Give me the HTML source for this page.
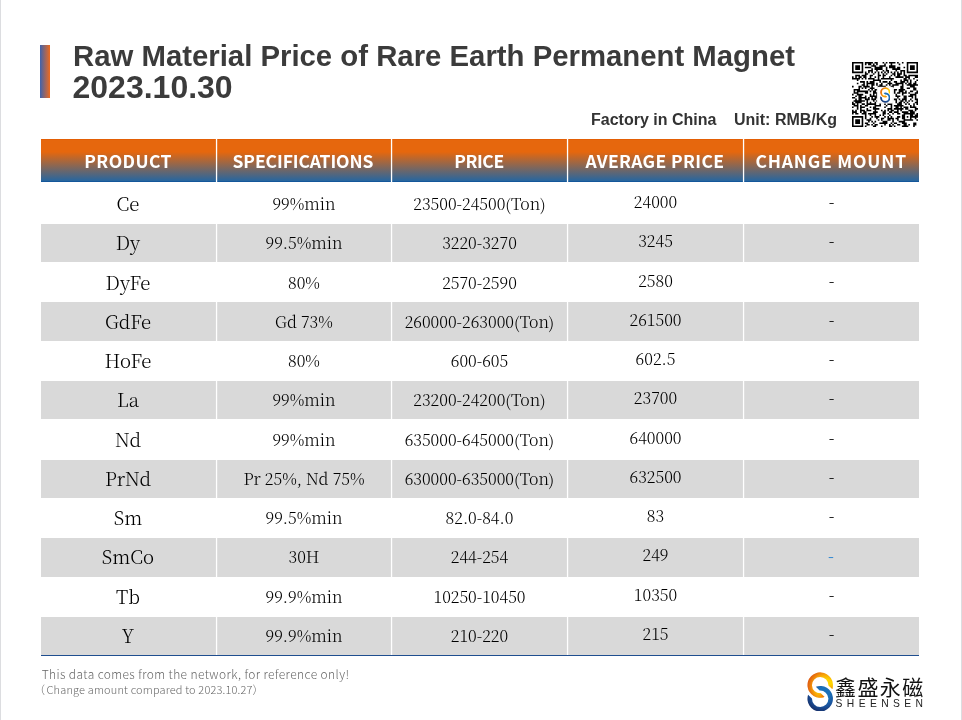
<!DOCTYPE html>
<html lang="en"><head><meta charset="utf-8"><title>Raw Material Price of Rare Earth Permanent Magnet 2023.10.30</title>
<style>
html,body{margin:0;padding:0;background:#fff;}
body{width:962px;height:720px;position:relative;overflow:hidden;font-family:"Liberation Sans",sans-serif;}
.edgeL{position:absolute;left:0;top:0;width:1px;height:720px;background:#dcdde0}
.edgeR{position:absolute;left:960.7px;top:0;width:1.3px;height:720px;background:#dcdde0}
.bar{position:absolute;left:40px;top:45px;width:10px;height:53px;background:linear-gradient(90deg,#3f63ad,#ee6a1e)}
h1{position:absolute;left:73px;top:40px;margin:0;font:bold 29.33px/32px "Liberation Sans",sans-serif;color:#3b3b3b;white-space:nowrap}
h1 span{font-size:32px;position:absolute;left:-0.5px;top:31px;line-height:32px}
.sub{position:absolute;top:111px;font:bold 16px/18px "Liberation Sans",sans-serif;color:#333;white-space:nowrap}
.tbl{position:absolute;left:0;top:0}
.th{position:absolute;top:138.6px;width:200px;height:43px;text-align:center;color:#fff;font:bold 17.5px/43px "Noto Sans CJK SC","Liberation Sans",sans-serif;white-space:nowrap}
.td{position:absolute;width:176px;height:30px;line-height:30px;text-align:center;color:#000;font-family:"Noto Serif CJK SC","Liberation Serif",serif;font-weight:300;white-space:nowrap}
.c0{font-size:18.67px} .c4{font-weight:500} .c1,.c2,.c3,.c4{font-size:16px}
.c0{left:40.0px}.c1{left:216.0px}.c2{left:391.5px}.c3{left:567.5px}.c4{left:743.5px}
.cn{position:absolute;left:835px;top:673px;font:400 21px/30px "Liberation Sans","Noto Sans CJK SC",sans-serif;color:#111;white-space:nowrap;letter-spacing:1.4px}
.en{position:absolute;left:835.6px;top:697px;font:400 10.3px/14px "Liberation Sans",sans-serif;color:#222;white-space:nowrap;letter-spacing:4.4px}
.note{position:absolute;left:41px;color:#666;font-family:"Noto Sans CJK SC","Liberation Sans",sans-serif;font-weight:300;white-space:nowrap}
</style></head><body>
<div class="edgeL"></div><div class="edgeR"></div>
<div class="bar"></div>
<h1>Raw Material Price of Rare Earth Permanent Magnet<br><span>2023.10.30</span></h1>
<div class="sub" style="left:591px">Factory in China</div>
<div class="sub" style="left:734px">Unit: RMB/Kg</div>
<svg class="tbl" width="962" height="720" viewBox="0 0 962 720"><defs><linearGradient id="hg" x1="0" y1="0" x2="0" y2="1"><stop offset="0" stop-color="#e35e05"/><stop offset="0.023" stop-color="#e35e05"/><stop offset="0.024" stop-color="#e6670d"/><stop offset="0.30" stop-color="#e6670d"/><stop offset="0.975" stop-color="#27669f"/><stop offset="0.978" stop-color="#14579a"/><stop offset="1" stop-color="#14579a"/></linearGradient></defs><rect x="41" y="139" width="174.90" height="43" fill="url(#hg)"/><rect x="217.2" y="139" width="173.70" height="43" fill="url(#hg)"/><rect x="392.2" y="139" width="174.70" height="43" fill="url(#hg)"/><rect x="568.2" y="139" width="174.70" height="43" fill="url(#hg)"/><rect x="744.2" y="139" width="174.80" height="43" fill="url(#hg)"/><rect x="41" y="224" width="174.90" height="38" fill="#d9d9d9"/><rect x="217.2" y="224" width="173.70" height="38" fill="#d9d9d9"/><rect x="392.2" y="224" width="174.70" height="38" fill="#d9d9d9"/><rect x="568.2" y="224" width="174.70" height="38" fill="#d9d9d9"/><rect x="744.2" y="224" width="174.80" height="38" fill="#d9d9d9"/><rect x="41" y="302" width="174.90" height="39" fill="#d9d9d9"/><rect x="217.2" y="302" width="173.70" height="39" fill="#d9d9d9"/><rect x="392.2" y="302" width="174.70" height="39" fill="#d9d9d9"/><rect x="568.2" y="302" width="174.70" height="39" fill="#d9d9d9"/><rect x="744.2" y="302" width="174.80" height="39" fill="#d9d9d9"/><rect x="41" y="381" width="174.90" height="38" fill="#d9d9d9"/><rect x="217.2" y="381" width="173.70" height="38" fill="#d9d9d9"/><rect x="392.2" y="381" width="174.70" height="38" fill="#d9d9d9"/><rect x="568.2" y="381" width="174.70" height="38" fill="#d9d9d9"/><rect x="744.2" y="381" width="174.80" height="38" fill="#d9d9d9"/><rect x="41" y="460" width="174.90" height="38" fill="#d9d9d9"/><rect x="217.2" y="460" width="173.70" height="38" fill="#d9d9d9"/><rect x="392.2" y="460" width="174.70" height="38" fill="#d9d9d9"/><rect x="568.2" y="460" width="174.70" height="38" fill="#d9d9d9"/><rect x="744.2" y="460" width="174.80" height="38" fill="#d9d9d9"/><rect x="41" y="538" width="174.90" height="39" fill="#d9d9d9"/><rect x="217.2" y="538" width="173.70" height="39" fill="#d9d9d9"/><rect x="392.2" y="538" width="174.70" height="39" fill="#d9d9d9"/><rect x="568.2" y="538" width="174.70" height="39" fill="#d9d9d9"/><rect x="744.2" y="538" width="174.80" height="39" fill="#d9d9d9"/><rect x="41" y="617" width="174.90" height="38" fill="#d9d9d9"/><rect x="217.2" y="617" width="173.70" height="38" fill="#d9d9d9"/><rect x="392.2" y="617" width="174.70" height="38" fill="#d9d9d9"/><rect x="568.2" y="617" width="174.70" height="38" fill="#d9d9d9"/><rect x="744.2" y="617" width="174.80" height="38" fill="#d9d9d9"/><rect x="41" y="655" width="878" height="1" fill="#1f4e8f"/></svg>
<div class="th" style="left:28.10px;letter-spacing:0.4px">PRODUCT</div><div class="th" style="left:202.95px;letter-spacing:-0.1px">SPECIFICATIONS</div><div class="th" style="left:379.00px;letter-spacing:-0.4px">PRICE</div><div class="th" style="left:554.98px;letter-spacing:0.36px">AVERAGE PRICE</div><div class="th" style="left:731.20px;letter-spacing:0.8px">CHANGE MOUNT</div><div class="td c0" style="top:188.00px">Ce</div><div class="td c1" style="top:189.00px">99%min</div><div class="td c2" style="top:189.00px">23500-24500(Ton)</div><div class="td c3" style="top:187.00px">24000</div><div class="td c4" style="top:187.00px">-</div><div class="td c0" style="top:227.27px">Dy</div><div class="td c1" style="top:228.27px">99.5%min</div><div class="td c2" style="top:228.27px">3220-3270</div><div class="td c3" style="top:226.27px">3245</div><div class="td c4" style="top:226.27px">-</div><div class="td c0" style="top:266.54px">DyFe</div><div class="td c1" style="top:267.54px">80%</div><div class="td c2" style="top:267.54px">2570-2590</div><div class="td c3" style="top:265.54px">2580</div><div class="td c4" style="top:265.54px">-</div><div class="td c0" style="top:305.81px">GdFe</div><div class="td c1" style="top:306.81px">Gd 73%</div><div class="td c2" style="top:306.81px">260000-263000(Ton)</div><div class="td c3" style="top:304.81px">261500</div><div class="td c4" style="top:304.81px">-</div><div class="td c0" style="top:345.08px">HoFe</div><div class="td c1" style="top:346.08px">80%</div><div class="td c2" style="top:346.08px">600-605</div><div class="td c3" style="top:344.08px">602.5</div><div class="td c4" style="top:344.08px">-</div><div class="td c0" style="top:384.35px">La</div><div class="td c1" style="top:385.35px">99%min</div><div class="td c2" style="top:385.35px">23200-24200(Ton)</div><div class="td c3" style="top:383.35px">23700</div><div class="td c4" style="top:383.35px">-</div><div class="td c0" style="top:423.62px">Nd</div><div class="td c1" style="top:424.62px">99%min</div><div class="td c2" style="top:424.62px">635000-645000(Ton)</div><div class="td c3" style="top:422.62px">640000</div><div class="td c4" style="top:422.62px">-</div><div class="td c0" style="top:462.89px">PrNd</div><div class="td c1" style="top:463.89px">Pr 25%, Nd 75%</div><div class="td c2" style="top:463.89px">630000-635000(Ton)</div><div class="td c3" style="top:461.89px">632500</div><div class="td c4" style="top:461.89px">-</div><div class="td c0" style="top:502.16px">Sm</div><div class="td c1" style="top:503.16px">99.5%min</div><div class="td c2" style="top:503.16px">82.0-84.0</div><div class="td c3" style="top:501.16px">83</div><div class="td c4" style="top:501.16px">-</div><div class="td c0" style="top:541.43px">SmCo</div><div class="td c1" style="top:542.43px">30H</div><div class="td c2" style="top:542.43px">244-254</div><div class="td c3" style="top:540.43px">249</div><div class="td c4" style="top:541.13px;color:#3a8cd2;font-weight:700;margin-left:-0.5px">-</div><div class="td c0" style="top:580.70px">Tb</div><div class="td c1" style="top:581.70px">99.9%min</div><div class="td c2" style="top:581.70px">10250-10450</div><div class="td c3" style="top:579.70px">10350</div><div class="td c4" style="top:579.70px">-</div><div class="td c0" style="top:619.97px">Y</div><div class="td c1" style="top:620.97px">99.9%min</div><div class="td c2" style="top:620.97px">210-220</div><div class="td c3" style="top:618.97px">215</div><div class="td c4" style="top:618.97px">-</div>
<svg style="position:absolute;left:852px;top:62px" width="66" height="65.2" viewBox="0 0 41 41" preserveAspectRatio="none"><defs><filter id="qrblur" x="-5%" y="-5%" width="110%" height="110%"><feGaussianBlur stdDeviation="0.22"/></filter></defs><rect width="41" height="41" fill="#fff"/><path d="M0 0h7v1h-7zM8 0h5v1h-5zM14 0h2v1h-2zM19 0h1v1h-1zM21 0h1v1h-1zM23 0h4v1h-4zM28 0h1v1h-1zM31 0h1v1h-1zM34 0h7v1h-7zM0 1h1v1h-1zM6 1h1v1h-1zM8 1h1v1h-1zM10 1h2v1h-2zM13 1h1v1h-1zM15 1h1v1h-1zM20 1h1v1h-1zM24 1h1v1h-1zM29 1h1v1h-1zM34 1h1v1h-1zM40 1h1v1h-1zM0 2h1v1h-1zM2 2h3v1h-3zM6 2h1v1h-1zM12 2h3v1h-3zM17 2h4v1h-4zM23 2h4v1h-4zM34 2h1v1h-1zM36 2h3v1h-3zM40 2h1v1h-1zM0 3h1v1h-1zM2 3h3v1h-3zM6 3h1v1h-1zM8 3h4v1h-4zM14 3h5v1h-5zM21 3h1v1h-1zM23 3h4v1h-4zM28 3h2v1h-2zM32 3h1v1h-1zM34 3h1v1h-1zM36 3h3v1h-3zM40 3h1v1h-1zM0 4h1v1h-1zM2 4h3v1h-3zM6 4h1v1h-1zM12 4h1v1h-1zM14 4h5v1h-5zM21 4h1v1h-1zM25 4h5v1h-5zM34 4h1v1h-1zM36 4h3v1h-3zM40 4h1v1h-1zM0 5h1v1h-1zM6 5h1v1h-1zM10 5h3v1h-3zM15 5h1v1h-1zM19 5h1v1h-1zM21 5h2v1h-2zM27 5h1v1h-1zM30 5h3v1h-3zM34 5h1v1h-1zM40 5h1v1h-1zM0 6h7v1h-7zM8 6h1v1h-1zM10 6h1v1h-1zM12 6h1v1h-1zM14 6h1v1h-1zM16 6h1v1h-1zM18 6h1v1h-1zM20 6h1v1h-1zM22 6h1v1h-1zM24 6h1v1h-1zM26 6h1v1h-1zM28 6h1v1h-1zM30 6h1v1h-1zM32 6h1v1h-1zM34 6h7v1h-7zM8 7h2v1h-2zM13 7h1v1h-1zM16 7h1v1h-1zM19 7h1v1h-1zM21 7h1v1h-1zM25 7h2v1h-2zM28 7h3v1h-3zM32 7h1v1h-1zM2 8h3v1h-3zM6 8h3v1h-3zM11 8h2v1h-2zM16 8h2v1h-2zM19 8h2v1h-2zM24 8h1v1h-1zM26 8h1v1h-1zM28 8h2v1h-2zM32 8h2v1h-2zM35 8h6v1h-6zM0 9h1v1h-1zM2 9h1v1h-1zM4 9h2v1h-2zM7 9h2v1h-2zM11 9h1v1h-1zM14 9h1v1h-1zM16 9h1v1h-1zM19 9h1v1h-1zM23 9h1v1h-1zM27 9h5v1h-5zM33 9h3v1h-3zM39 9h2v1h-2zM0 10h5v1h-5zM6 10h1v1h-1zM8 10h1v1h-1zM10 10h4v1h-4zM16 10h1v1h-1zM18 10h8v1h-8zM32 10h2v1h-2zM35 10h1v1h-1zM38 10h1v1h-1zM3 11h1v1h-1zM13 11h5v1h-5zM24 11h1v1h-1zM30 11h1v1h-1zM32 11h3v1h-3zM36 11h1v1h-1zM40 11h1v1h-1zM5 12h3v1h-3zM9 12h1v1h-1zM11 12h3v1h-3zM17 12h1v1h-1zM19 12h3v1h-3zM23 12h1v1h-1zM26 12h2v1h-2zM30 12h3v1h-3zM34 12h1v1h-1zM36 12h1v1h-1zM39 12h1v1h-1zM3 13h1v1h-1zM7 13h1v1h-1zM9 13h5v1h-5zM15 13h1v1h-1zM18 13h1v1h-1zM22 13h3v1h-3zM27 13h5v1h-5zM33 13h1v1h-1zM35 13h2v1h-2zM38 13h2v1h-2zM6 14h2v1h-2zM9 14h1v1h-1zM12 14h2v1h-2zM15 14h1v1h-1zM17 14h2v1h-2zM21 14h1v1h-1zM23 14h1v1h-1zM25 14h4v1h-4zM31 14h1v1h-1zM34 14h7v1h-7zM0 15h1v1h-1zM4 15h2v1h-2zM7 15h4v1h-4zM12 15h1v1h-1zM16 15h5v1h-5zM24 15h2v1h-2zM30 15h2v1h-2zM36 15h3v1h-3zM4 16h1v1h-1zM6 16h1v1h-1zM8 16h1v1h-1zM11 16h3v1h-3zM30 16h2v1h-2zM34 16h2v1h-2zM38 16h2v1h-2zM1 17h4v1h-4zM10 17h1v1h-1zM12 17h1v1h-1zM14 17h2v1h-2zM26 17h2v1h-2zM29 17h4v1h-4zM38 17h2v1h-2zM1 18h1v1h-1zM3 18h7v1h-7zM11 18h1v1h-1zM13 18h2v1h-2zM26 18h1v1h-1zM29 18h3v1h-3zM33 18h1v1h-1zM36 18h2v1h-2zM40 18h1v1h-1zM1 19h3v1h-3zM8 19h2v1h-2zM13 19h3v1h-3zM26 19h1v1h-1zM28 19h2v1h-2zM31 19h3v1h-3zM35 19h1v1h-1zM39 19h2v1h-2zM0 20h1v1h-1zM3 20h4v1h-4zM11 20h1v1h-1zM13 20h1v1h-1zM15 20h1v1h-1zM27 20h1v1h-1zM31 20h1v1h-1zM36 20h4v1h-4zM2 21h1v1h-1zM4 21h2v1h-2zM8 21h1v1h-1zM11 21h5v1h-5zM27 21h3v1h-3zM32 21h2v1h-2zM35 21h3v1h-3zM39 21h1v1h-1zM0 22h2v1h-2zM4 22h5v1h-5zM10 22h1v1h-1zM12 22h1v1h-1zM14 22h2v1h-2zM28 22h1v1h-1zM32 22h2v1h-2zM37 22h1v1h-1zM39 22h1v1h-1zM2 23h1v1h-1zM4 23h2v1h-2zM8 23h3v1h-3zM12 23h3v1h-3zM26 23h2v1h-2zM29 23h1v1h-1zM31 23h3v1h-3zM36 23h1v1h-1zM39 23h2v1h-2zM1 24h7v1h-7zM9 24h1v1h-1zM13 24h1v1h-1zM15 24h1v1h-1zM27 24h1v1h-1zM30 24h2v1h-2zM33 24h1v1h-1zM35 24h1v1h-1zM37 24h1v1h-1zM40 24h1v1h-1zM0 25h1v1h-1zM2 25h4v1h-4zM9 25h1v1h-1zM11 25h1v1h-1zM14 25h1v1h-1zM27 25h1v1h-1zM29 25h2v1h-2zM32 25h1v1h-1zM34 25h1v1h-1zM39 25h2v1h-2zM0 26h2v1h-2zM3 26h1v1h-1zM6 26h2v1h-2zM9 26h6v1h-6zM17 26h1v1h-1zM20 26h1v1h-1zM22 26h3v1h-3zM28 26h3v1h-3zM33 26h1v1h-1zM35 26h1v1h-1zM38 26h1v1h-1zM40 26h1v1h-1zM1 27h3v1h-3zM5 27h1v1h-1zM8 27h2v1h-2zM14 27h4v1h-4zM21 27h1v1h-1zM24 27h1v1h-1zM26 27h6v1h-6zM36 27h1v1h-1zM38 27h1v1h-1zM0 28h1v1h-1zM3 28h1v1h-1zM5 28h3v1h-3zM11 28h1v1h-1zM13 28h2v1h-2zM20 28h1v1h-1zM24 28h1v1h-1zM27 28h2v1h-2zM30 28h1v1h-1zM32 28h3v1h-3zM36 28h4v1h-4zM3 29h1v1h-1zM5 29h1v1h-1zM9 29h1v1h-1zM13 29h4v1h-4zM22 29h3v1h-3zM26 29h6v1h-6zM33 29h2v1h-2zM39 29h2v1h-2zM0 30h1v1h-1zM2 30h1v1h-1zM5 30h3v1h-3zM9 30h3v1h-3zM14 30h1v1h-1zM18 30h1v1h-1zM20 30h1v1h-1zM22 30h1v1h-1zM24 30h2v1h-2zM28 30h1v1h-1zM30 30h1v1h-1zM35 30h3v1h-3zM39 30h1v1h-1zM0 31h3v1h-3zM5 31h1v1h-1zM7 31h2v1h-2zM13 31h3v1h-3zM19 31h2v1h-2zM23 31h2v1h-2zM26 31h3v1h-3zM31 31h4v1h-4zM36 31h3v1h-3zM0 32h1v1h-1zM2 32h2v1h-2zM6 32h3v1h-3zM10 32h5v1h-5zM19 32h2v1h-2zM22 32h1v1h-1zM25 32h1v1h-1zM28 32h2v1h-2zM32 32h7v1h-7zM40 32h1v1h-1zM8 33h1v1h-1zM11 33h1v1h-1zM14 33h1v1h-1zM17 33h1v1h-1zM19 33h1v1h-1zM23 33h1v1h-1zM31 33h2v1h-2zM36 33h2v1h-2zM39 33h2v1h-2zM0 34h7v1h-7zM8 34h1v1h-1zM12 34h1v1h-1zM14 34h3v1h-3zM20 34h1v1h-1zM22 34h1v1h-1zM24 34h1v1h-1zM28 34h2v1h-2zM31 34h2v1h-2zM34 34h1v1h-1zM36 34h5v1h-5zM0 35h1v1h-1zM6 35h1v1h-1zM8 35h1v1h-1zM11 35h1v1h-1zM15 35h1v1h-1zM18 35h2v1h-2zM22 35h4v1h-4zM27 35h2v1h-2zM31 35h2v1h-2zM36 35h1v1h-1zM39 35h1v1h-1zM0 36h1v1h-1zM2 36h3v1h-3zM6 36h1v1h-1zM9 36h3v1h-3zM16 36h1v1h-1zM18 36h1v1h-1zM22 36h2v1h-2zM25 36h1v1h-1zM28 36h1v1h-1zM32 36h6v1h-6zM40 36h1v1h-1zM0 37h1v1h-1zM2 37h3v1h-3zM6 37h1v1h-1zM10 37h1v1h-1zM12 37h1v1h-1zM14 37h1v1h-1zM19 37h3v1h-3zM25 37h1v1h-1zM29 37h4v1h-4zM0 38h1v1h-1zM2 38h3v1h-3zM6 38h1v1h-1zM8 38h2v1h-2zM13 38h1v1h-1zM17 38h5v1h-5zM24 38h1v1h-1zM26 38h2v1h-2zM31 38h3v1h-3zM38 38h2v1h-2zM0 39h1v1h-1zM6 39h1v1h-1zM9 39h2v1h-2zM12 39h1v1h-1zM14 39h2v1h-2zM20 39h1v1h-1zM23 39h1v1h-1zM25 39h1v1h-1zM28 39h2v1h-2zM32 39h2v1h-2zM35 39h1v1h-1zM38 39h2v1h-2zM0 40h7v1h-7zM8 40h1v1h-1zM13 40h2v1h-2zM18 40h1v1h-1zM23 40h2v1h-2zM26 40h1v1h-1zM31 40h4v1h-4zM38 40h1v1h-1z" fill="#000" filter="url(#qrblur)"/><rect x="15.6" y="15.7" width="9.9" height="10.2" rx="0.7" fill="#fff" stroke="#d8d8d8" stroke-width="0.25"/></svg>
<svg  style="position:absolute;left:879.7px;top:87.0px" width="10.6" height="16.0" viewBox="-13.2 -13.1 26.4 39.8">
<defs>
<radialGradient id="qo" gradientUnits="userSpaceOnUse" cx="5.5" cy="2" r="18.5"><stop offset="0.42" stop-color="#ffd400"/><stop offset="0.68" stop-color="#f7a208"/><stop offset="1" stop-color="#de5810"/></radialGradient>
<radialGradient id="qt" gradientUnits="userSpaceOnUse" cx="5" cy="12" r="9"><stop offset="0" stop-color="#e8600f"/><stop offset="0.35" stop-color="#ee7a0c" stop-opacity="0.9"/><stop offset="1" stop-color="#f6a008" stop-opacity="0"/></radialGradient>
<radialGradient id="qu" gradientUnits="userSpaceOnUse" cx="12.5" cy="4.5" r="6"><stop offset="0" stop-color="#e8700f"/><stop offset="1" stop-color="#f9b004" stop-opacity="0"/></radialGradient>
<radialGradient id="qb" gradientUnits="userSpaceOnUse" cx="3" cy="9" r="19"><stop offset="0.35" stop-color="#1b70b8"/><stop offset="0.65" stop-color="#1a529c"/><stop offset="1" stop-color="#152a63"/></radialGradient>
<clipPath id="qc"><path d="M12.13 3.94A12.75 12.75 0 1 0 4.36 11.98L0.57 8.18A8.2 8.2 0 1 1 8.20 0.29Z"/></clipPath>
</defs>
<path d="M12.13 3.94A12.75 12.75 0 1 0 4.36 11.98L0.57 8.18A8.2 8.2 0 1 1 8.20 0.29Z" fill="url(#qo)"/>
<g clip-path="url(#qc)"><circle cx="5" cy="12" r="9" fill="url(#qt)"/><circle cx="12.5" cy="4.5" r="6" fill="url(#qu)"/></g>
<path d="M-12.13 9.68A12.75 12.75 0 1 0 -4.36 1.64L-0.57 5.44A8.2 8.2 0 1 1 -8.20 13.33Z" fill="url(#qb)"/>
</svg>
<svg  style="position:absolute;left:806.6px;top:671.5px" width="26.4" height="39.8" viewBox="-13.2 -13.1 26.4 39.8">
<defs>
<radialGradient id="Lo" gradientUnits="userSpaceOnUse" cx="5.5" cy="2" r="18.5"><stop offset="0.42" stop-color="#ffd400"/><stop offset="0.68" stop-color="#f7a208"/><stop offset="1" stop-color="#de5810"/></radialGradient>
<radialGradient id="Lt" gradientUnits="userSpaceOnUse" cx="5" cy="12" r="9"><stop offset="0" stop-color="#e8600f"/><stop offset="0.35" stop-color="#ee7a0c" stop-opacity="0.9"/><stop offset="1" stop-color="#f6a008" stop-opacity="0"/></radialGradient>
<radialGradient id="Lu" gradientUnits="userSpaceOnUse" cx="12.5" cy="4.5" r="6"><stop offset="0" stop-color="#e8700f"/><stop offset="1" stop-color="#f9b004" stop-opacity="0"/></radialGradient>
<radialGradient id="Lb" gradientUnits="userSpaceOnUse" cx="3" cy="9" r="19"><stop offset="0.35" stop-color="#1b70b8"/><stop offset="0.65" stop-color="#1a529c"/><stop offset="1" stop-color="#152a63"/></radialGradient>
<clipPath id="Lc"><path d="M12.13 3.94A12.75 12.75 0 1 0 4.36 11.98L0.57 8.18A8.2 8.2 0 1 1 8.20 0.29Z"/></clipPath>
</defs>
<path d="M12.13 3.94A12.75 12.75 0 1 0 4.36 11.98L0.57 8.18A8.2 8.2 0 1 1 8.20 0.29Z" fill="url(#Lo)"/>
<g clip-path="url(#Lc)"><circle cx="5" cy="12" r="9" fill="url(#Lt)"/><circle cx="12.5" cy="4.5" r="6" fill="url(#Lu)"/></g>
<path d="M-12.13 9.68A12.75 12.75 0 1 0 -4.36 1.64L-0.57 5.44A8.2 8.2 0 1 1 -8.20 13.33Z" fill="url(#Lb)"/>
</svg>
<div class="cn">鑫盛永磁</div>
<div class="en">SHEENSEN</div>
<div class="note" style="top:666px;left:41.7px;font-size:12px;line-height:16px;letter-spacing:0.39px">This data comes from the network, for reference only!</div>
<div class="note" style="top:681px;font-size:11px;line-height:16px;left:33.9px;letter-spacing:0.16px"><span style="margin-right:1.5px">（</span>Change amount compared to 2023.10.27）</div>
</body></html>
